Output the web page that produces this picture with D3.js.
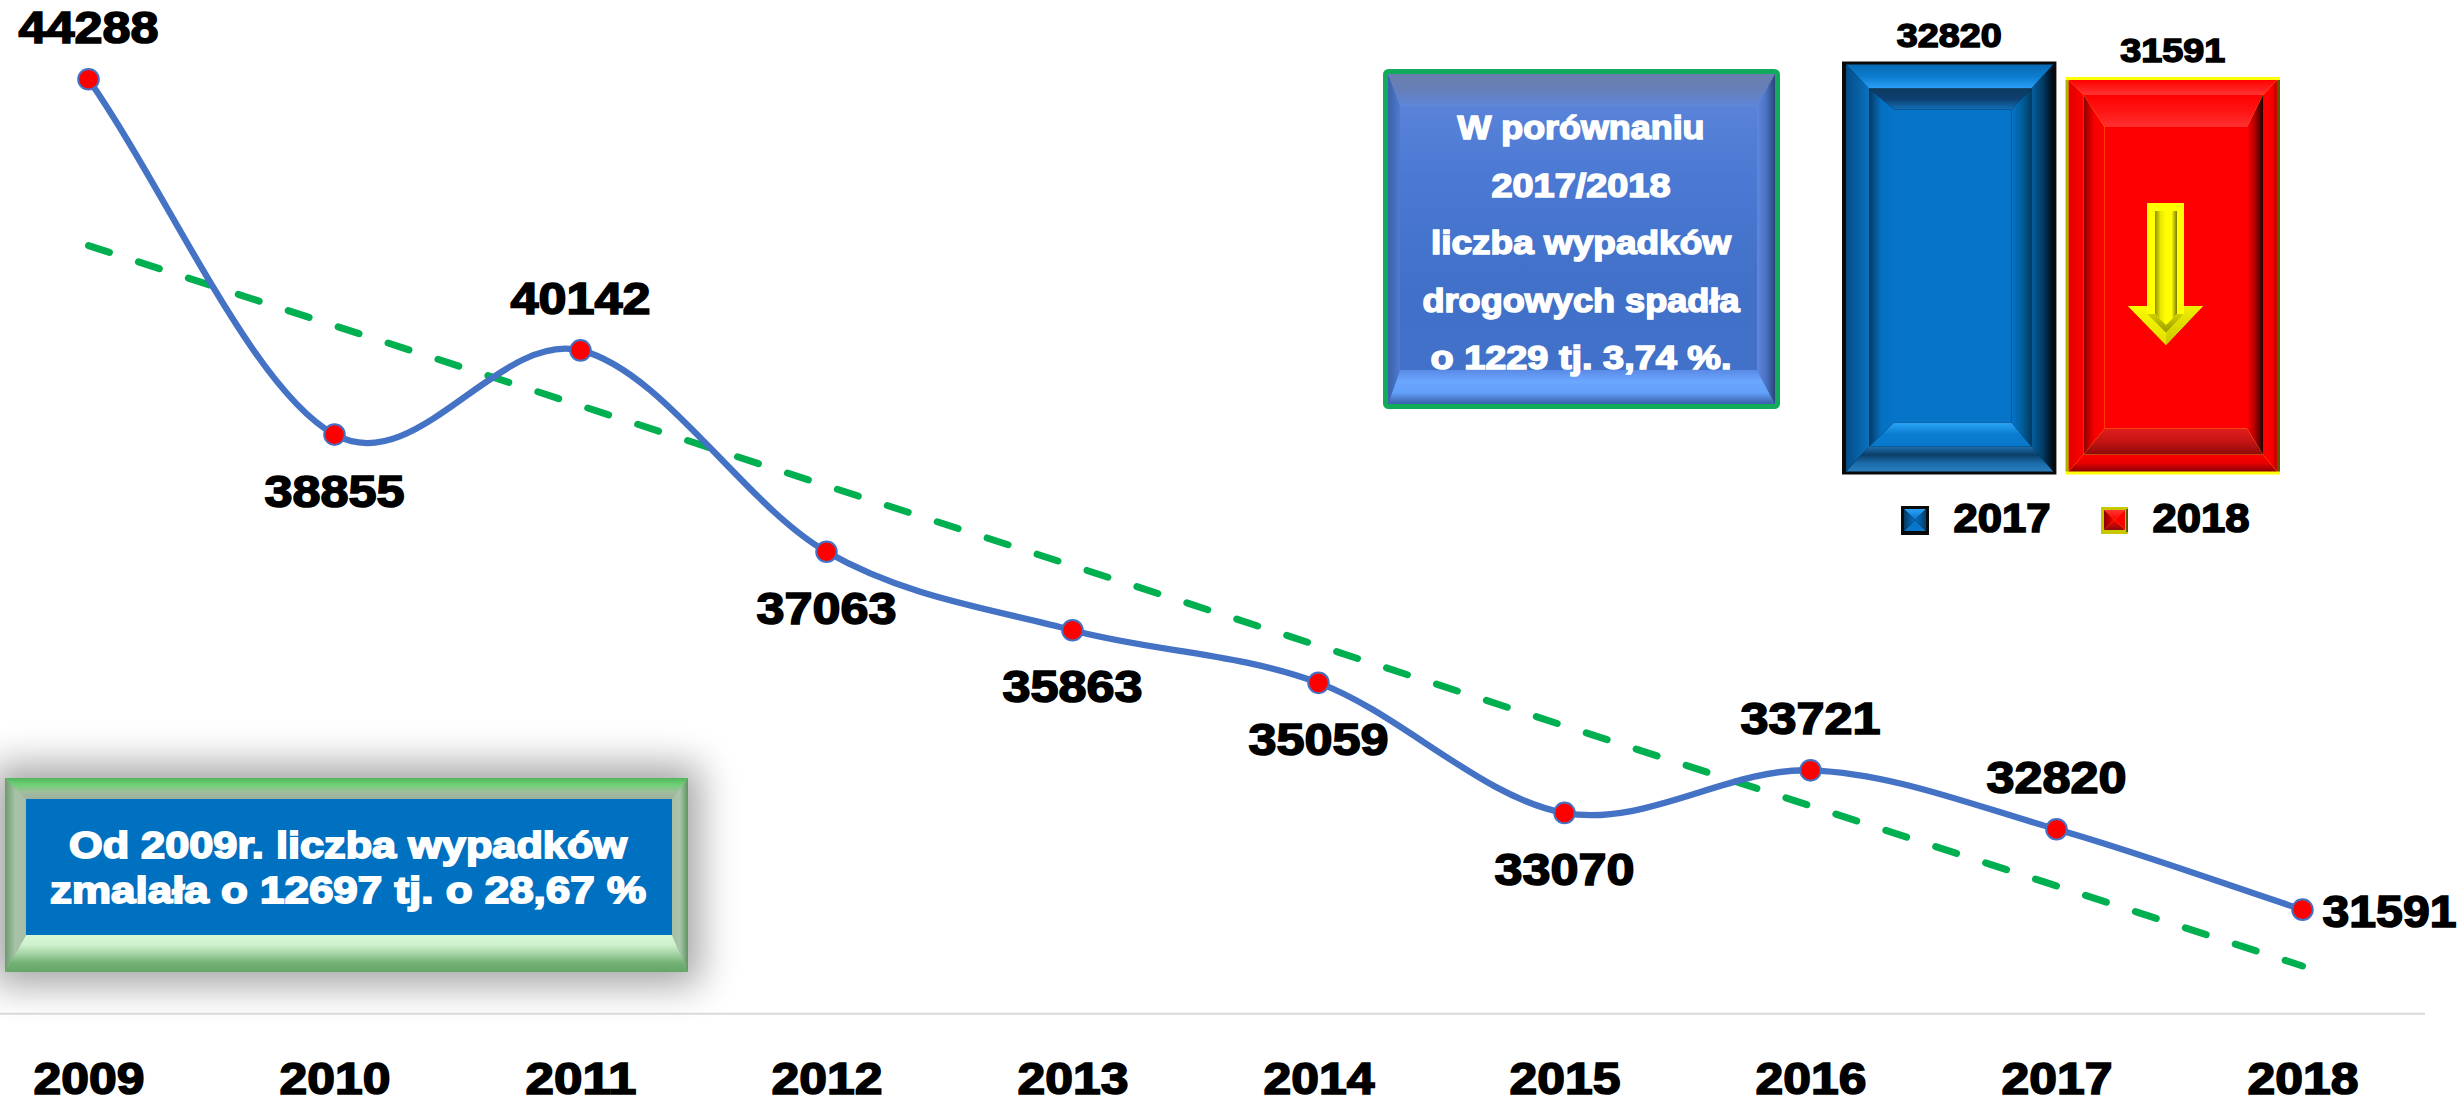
<!DOCTYPE html>
<html><head><meta charset="utf-8">
<script src="https://cdn.jsdelivr.net/npm/d3@7"></script>
<style>html,body{margin:0;padding:0;background:#fff;overflow:hidden}svg{display:block}
text{font-family:"Liberation Sans",Arial,sans-serif;font-weight:700}</style></head>
<body><svg id="c" width="2463" height="1096"></svg>
<script>
const years=[2009,2010,2011,2012,2013,2014,2015,2016,2017,2018];
const accidents=[44288,38855,40142,37063,35863,35059,33070,33721,32820,31591];
const labelSide=["above","below","above","below","below","below","below","above","above","right"];
const trendYears=[2009,2018];
const trendValues=[41745,30730];
const barNames=["2017","2018"];
const barValues=[32820,31591];
const note1=["W porównaniu","2017/2018","liczba wypadków","drogowych spadła","o 1229 tj. 3,74 %."];
const note1W=[247,179,300,317,301];
const note2=["Od 2009r. liczba wypadków","zmalała o 12697 tj. o 28,67 %"];
const note2W=[558,596];

const svg=d3.select("#c"), defs=svg.append("defs");
let gid=0;
function grad(colors,x1,y1,x2,y2){
  const id="g"+(gid++);
  const g=defs.append("linearGradient").attr("id",id).attr("x1",x1).attr("y1",y1).attr("x2",x2).attr("y2",y2);
  colors.forEach((c,i)=>g.append("stop").attr("offset",colors.length>1?i/(colors.length-1):0).attr("stop-color",c));
  return `url(#${id})`;
}
function ring(p,x0,y0,x1,y1,ins,cols){
  const [t,r,b,l]=ins;
  const poly=(pts,fill)=>p.append("polygon").attr("points",pts.map(q=>q.join(",")).join(" ")).attr("fill",fill);
  poly([[x0,y0],[x1,y0],[x1-r,y0+t],[x0+l,y0+t]],grad(cols.top,0,0,0,1));
  poly([[x1,y1],[x0,y1],[x0+l,y1-b],[x1-r,y1-b]],grad(cols.bottom,0,0,0,1));
  poly([[x0,y0],[x0+l,y0+t],[x0+l,y1-b],[x0,y1]],grad(cols.left,0,0,1,0));
  poly([[x1,y0],[x1,y1],[x1-r,y1-b],[x1-r,y0+t]],grad(cols.right,0,0,1,0));
}
function txt(p,s,x,y,size,w,fill,sw){
  const t=p.append("text").attr("x",x).attr("y",y).attr("text-anchor","middle").attr("font-size",size)
    .attr("fill",fill).attr("stroke",fill).attr("stroke-width",sw).text(s);
  if(w) t.attr("textLength",w).attr("lengthAdjust","spacingAndGlyphs");
  return t;
}
/* spreadsheet-style smoothing: inner tangents (next-prev)/6, end tangents (next-this)/3 */
function sheetSmooth(ctx){
  let pts=[];
  return {
    lineStart(){pts=[];},
    point(px,py){pts.push([+px,+py]);},
    lineEnd(){
      const n=pts.length;
      ctx.moveTo(pts[0][0],pts[0][1]);
      for(let i=0;i<n-1;i++){
        const a=pts[i],b=pts[i+1];
        const c1=i===0?[a[0]+(b[0]-a[0])/3,a[1]+(b[1]-a[1])/3]:[a[0]+(b[0]-pts[i-1][0])/6,a[1]+(b[1]-pts[i-1][1])/6];
        const c2=i===n-2?[b[0]-(b[0]-a[0])/3,b[1]-(b[1]-a[1])/3]:[b[0]-(pts[i+2][0]-a[0])/6,b[1]-(pts[i+2][1]-a[1])/6];
        ctx.bezierCurveTo(c1[0],c1[1],c2[0],c2[1],b[0],b[1]);
      }
    },
    areaStart(){},areaEnd(){}
  };
}

/* main line chart */
const x=d3.scalePoint().domain(years).range([88.5,2302.5]);
const y=d3.scaleLinear().domain([30000,45000]).range([1013.7,32.7]);

/* shadow + bottom note */
const blur=defs.append("filter").attr("id","sh").attr("x","-20%").attr("y","-60%").attr("width","140%").attr("height","220%");
blur.append("feGaussianBlur").attr("stdDeviation",19);
const nb=svg.append("g");
nb.append("rect").attr("x",-8).attr("y",765).attr("width",708).attr("height",220).attr("fill","#000").attr("opacity",.36).attr("filter","url(#sh)");
nb.append("rect").attr("x",5).attr("y",778).attr("width",683).attr("height",194).attr("fill","#9eb49c");
ring(nb,5,778,688,972,[21,16,37,21],{
  top:["#52b45c","#6fd276","#9fbd9f","#9eb09c"],
  right:["#a5bfa5","#a9c4a9","#5c965f"],
  bottom:["#d6f7d5","#cff2ce","#a6d4a7","#72b274","#65a567"],
  left:["#6a9c6d","#a8c2a8","#a5bda5"]});
nb.append("rect").attr("x",26).attr("y",799).attr("width",646).attr("height",136).attr("fill","#0070c0");
note2.forEach((s,i)=>txt(nb,s,348,858+i*45,37,note2W[i],"#fff",1.8));

/* axis */
svg.append("line").attr("x1",0).attr("x2",2425).attr("y1",y(30000)).attr("y2",y(30000)).attr("stroke","#d9d9d9").attr("stroke-width",2);
const ax=svg.append("g").attr("transform",`translate(0,${y(30000)})`).call(d3.axisBottom(x).tickSize(0).tickFormat(d3.format("d")));
ax.select(".domain").remove();
ax.selectAll("text").attr("dy",null).attr("y",80).attr("font-size",44).attr("font-family",'"Liberation Sans",Arial,sans-serif')
  .attr("fill","#000").attr("stroke","#000").attr("stroke-width",1.6).attr("textLength",111).attr("lengthAdjust","spacingAndGlyphs");

/* trend + series */
svg.append("path").datum(trendYears.map((d,i)=>[x(d),y(trendValues[i])]))
  .attr("d",d3.line()).attr("fill","none").attr("stroke","#00b050").attr("stroke-width",7)
  .attr("stroke-linecap","round").attr("stroke-dasharray","22 30.5");
svg.append("path").datum(years.map((d,i)=>[x(d),y(accidents[i])]))
  .attr("d",d3.line().curve(sheetSmooth)).attr("fill","none").attr("stroke","#4472c4").attr("stroke-width",6.3);
svg.append("g").selectAll("circle").data(years).join("circle")
  .attr("cx",d=>x(d)).attr("cy",(d,i)=>y(accidents[i])).attr("r",10.3).attr("fill","#ff0000").attr("stroke","#4472c4").attr("stroke-width",2);
years.forEach((d,i)=>{
  const side=labelSide[i], px=x(d), py=y(accidents[i]);
  const lx=side==="right"?px+87:px;
  const ly=side==="above"?py-36:side==="below"?py+72:py+17;
  txt(svg,String(accidents[i]),lx,ly,44,side==="right"?134:140,"#000",1.6);
});

/* bars */
const bx=d3.scaleBand().domain(barNames).range([1842,2280]).paddingInner(0.041);
const by=d3.scaleLinear().domain([0,32820]).range([474.5,61.5]);
const barG=svg.append("g");
const blueStyle={border:"#0a0a0a",ins1:[24,22,25,23],ins2:[21,20,24,25],pad:4,
  c1:{top:["#066ab5","#0c7ccf","#2ba0f8"],right:["#05609f","#023d68","#00070f"],bottom:["#1f6fac","#0b3f68","#1a6ba9","#2a7dbd"],left:["#024c85","#0b72c0"]},
  c2:{top:["#0c3a60","#0f4070","#1270b8"],right:["#0674c9","#03609f","#023b62"],bottom:["#2aa5f8","#0a7ccf","#0878cc"],left:["#053960","#0570c2","#0674c9"]},
  base:"#0674c9"};
const redStyle={border:"#ffff00",ins1:[15,14,17,15],ins2:[32,16,26,21],pad:3,
  c1:{top:["#ff0000","#ff3434"],right:["#ff0000","#ff0000","#c40000"],bottom:["#ff0000","#e80000","#8a0000"],left:["#e00000","#ff0000"]},
  c2:{top:["#ff0000","#ff1414","#ff3030"],right:["#ff0000","#b00000","#1e0000"],bottom:["#e21e1e","#c61414","#8b0a0a"],left:["#8a0000","#f80000","#ff0000"]},
  base:"#ff0000"};
const styles=[blueStyle,redStyle];
barNames.forEach((n,i)=>{
  const st=styles[i], X0=bx(n), X1=X0+bx.bandwidth(), Y0=by(barValues[i]), Y1=by(0);
  const g=barG.append("g");
  g.append("rect").attr("x",X0).attr("y",Y0).attr("width",X1-X0).attr("height",Y1-Y0).attr("fill",st.border);
  if(i===1){
    g.append("rect").attr("x",X0).attr("y",Y0+3).attr("width",3).attr("height",Y1-Y0-6).attr("fill","#b0b000");
    g.append("rect").attr("x",X1-3).attr("y",Y0+3).attr("width",3).attr("height",Y1-Y0-6).attr("fill","#5a5a00");
  }
  const a0=X0+st.pad,b0=Y0+3,a1=X1-3,b1=Y1-3;
  ring(g,a0,b0,a1,b1,st.ins1,st.c1);
  const a2=a0+st.ins1[3],b2=b0+st.ins1[0],a3=a1-st.ins1[1],b3=b1-st.ins1[2];
  ring(g,a2,b2,a3,b3,st.ins2,st.c2);
  g.append("rect").attr("x",a2+st.ins2[3]).attr("y",b2+st.ins2[0]).attr("width",a3-a2-st.ins2[3]-st.ins2[1]).attr("height",b3-b2-st.ins2[0]-st.ins2[2]).attr("fill",st.base);
  txt(svg,String(barValues[i]),(X0+X1)/2,Y0-15,33.5,105,"#000",1.5);
});

/* arrow */
const ag=svg.append("g");
const pg=(pts,f)=>ag.append("polygon").attr("points",pts.map(q=>q.join(",")).join(" ")).attr("fill",f);
pg([[2147,203],[2184,203],[2184,306],[2203,306],[2166,345],[2128,306],[2147,306]],"#ffff00");
pg([[2155,211],[2177,211],[2177,314],[2166,325],[2155,314]],grad(["#8f8f00","#e8e800","#ffff00","#ffff00","#7a7a00"],0,0,1,0));
pg([[2147,314],[2155,314],[2166,325],[2177,314],[2184,314],[2166,333]],grad(["#d0d000","#9a9a00"],0,0,0,1));
pg([[2128,306],[2147,306],[2147,314],[2166,333],[2166,345]],grad(["#fafa00","#e0e000"],0,0,0,1));
pg([[2203,306],[2184,306],[2184,314],[2166,333],[2166,345]],grad(["#f0f000","#c8c800"],0,0,0,1));

/* legend */
const legX=[1901,2101], legW=[28,27], legTop=[506,507], legH=[29,27], legText=[2002,2201];
barNames.forEach((n,i)=>{
  const st=styles[i], g=svg.append("g");
  g.append("rect").attr("x",legX[i]).attr("y",legTop[i]).attr("width",legW[i]).attr("height",legH[i]).attr("fill",i?"#c8c800":"#0a0a0a");
  if(i) g.append("rect").attr("x",legX[i]+legW[i]-2).attr("y",legTop[i]+2).attr("width",2).attr("height",legH[i]-4).attr("fill","#5a5a00");
  const q=[legX[i]+3,legTop[i]+3,legX[i]+legW[i]-3,legTop[i]+legH[i]-4];
  const cx=(q[0]+q[2])/2, cy=(q[1]+q[3])/2;
  const ins=[cy-q[1],cx-q[0],q[3]-cy,cx-q[0]];
  ring(g,q[0],q[1],q[2],q[3],ins,{top:[st.c1.top[2]||st.c1.top[1],st.base],right:[st.base,st.c1.right[1]],bottom:[st.base,st.c2.bottom[2]],left:[st.c2.left[0],st.base]});
  txt(svg,n,legText[i],532,41,97,"#000",1.7);
});

/* top note */
const ng=svg.append("g");
ng.append("rect").attr("x",1385.5).attr("y",71.5).attr("width",392).attr("height",335).attr("rx",3).attr("fill","#4f7cd4").attr("stroke","#12ab5b").attr("stroke-width",5);
ng.append("rect").attr("x",1388).attr("y",74).attr("width",387).attr("height",330).attr("fill",grad(["#6087dc","#4a78d2","#4070c8","#4272c8"],0,0,0,1));
ring(ng,1388,74,1775,404,[32,18,34,12],{
  top:["#6a7fae","#667fb8","#5f86d8"],
  right:["#5f88dc","#4a72c4","#2a4478"],
  bottom:["#5a8ae6","#6ba6ff","#62a0fa","#3a5fa8"],
  left:["#3a62a8","#4f7ad0"]});
note1.forEach((s,i)=>txt(ng,s,1581,139+i*57.6,33,note1W[i],"#fff",1.5));
</script></body></html>
